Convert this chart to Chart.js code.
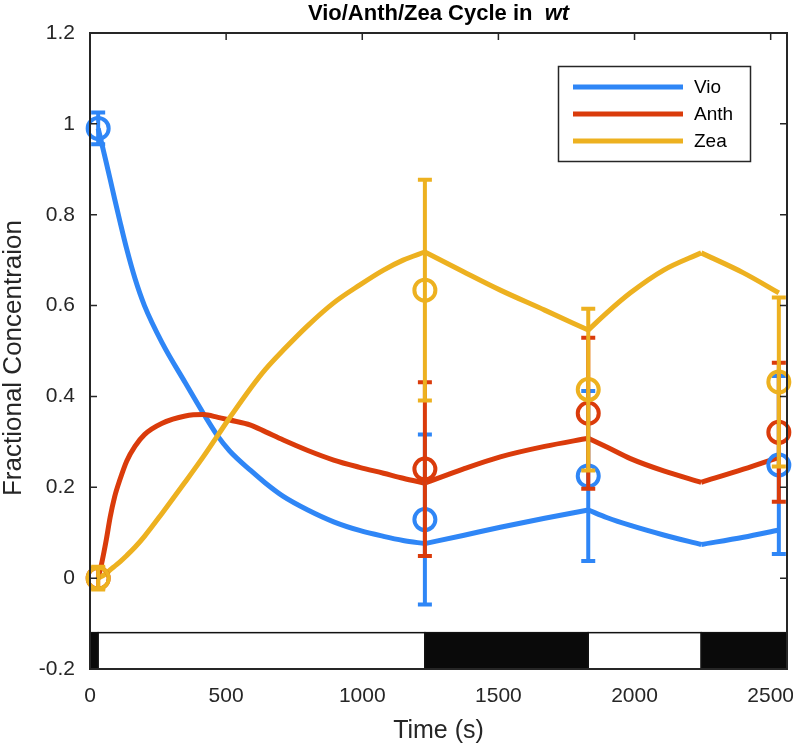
<!DOCTYPE html>
<html><head><meta charset="utf-8">
<script src="https://cdn.jsdelivr.net/npm/chart.js@4.4.1/dist/chart.umd.min.js"></script>
<style>html,body{margin:0;padding:0;background:#fff;}</style>
</head><body>
<canvas id="c" width="793" height="744"></canvas>
<script>
// ---------- data ----------
const seriesNames = ['Vio', 'Anth', 'Zea'];
const modelTime = [30, 43, 60, 74, 90, 110, 135, 165, 200, 265, 350, 417, 470, 513, 590, 645, 710, 800, 895, 990, 1078, 1150, 1230, 1370, 1507, 1670, 1830, 1900, 1985, 2107, 2245, 2400, 2530];
const vioModel  = [0.99, 0.957, 0.914, 0.878, 0.836, 0.785, 0.724, 0.66, 0.6, 0.518, 0.43, 0.362, 0.312, 0.28, 0.237, 0.209, 0.18, 0.15, 0.124, 0.105, 0.092, 0.083, 0.076, 0.094, 0.112, 0.132, 0.15, 0.133, 0.116, 0.095, 0.074, 0.09, 0.106];
const anthModel = [0.0, 0.033, 0.085, 0.134, 0.178, 0.217, 0.258, 0.29, 0.316, 0.341, 0.357, 0.36, 0.354, 0.348, 0.337, 0.322, 0.304, 0.281, 0.26, 0.244, 0.231, 0.22, 0.209, 0.24, 0.267, 0.29, 0.308, 0.288, 0.263, 0.236, 0.211, 0.24, 0.266];
const zeaModel  = [0.0, 0.004, 0.01, 0.018, 0.026, 0.036, 0.05, 0.068, 0.092, 0.143, 0.212, 0.268, 0.315, 0.353, 0.418, 0.46, 0.502, 0.556, 0.606, 0.645, 0.678, 0.7, 0.718, 0.675, 0.634, 0.59, 0.546, 0.585, 0.628, 0.678, 0.716, 0.672, 0.628];
// times where the light switches and the model curves have corners
const switchTimes = [1230, 1830, 2245];

const sampleTime = [30, 1230, 1830, 2530];
const vioMean  = [0.99, 0.129, 0.225, 0.249];
const vioErr   = [0.035, 0.187, 0.187, 0.196];
const anthMean = [0.0, 0.240, 0.363, 0.321];
const anthErr  = [0.022, 0.191, 0.166, 0.153];
const zeaMean  = [0.0, 0.634, 0.415, 0.432];
const zeaErr   = [0.025, 0.243, 0.178, 0.186];

const xTickValues = [0, 500, 1000, 1500, 2000, 2500];
const xTickLabels = ['0', '500', '1000', '1500', '2000', '2500'];
const yTickValues = [-0.2, 0, 0.2, 0.4, 0.6, 0.8, 1.0, 1.2];
const yTickLabels = ['-0.2', '0', '0.2', '0.4', '0.6', '0.8', '1', '1.2'];

// light / dark periods (s)
const periodStart = [0, 30, 1230, 1830, 2245];
const periodEnd   = [30, 1230, 1830, 2245, 2560];
const periodDark  = [true, false, true, false, true];

// ---------- styles ----------
const FONT = "'Liberation Sans', Arial, Helvetica, sans-serif";
const colors = ['#2f86f6', '#da3b0b', '#edb120'];
const AXC = '#262626';

const toPts = (xs, ys) => xs.map((t, i) => ({x: t, y: ys[i]}));

function segments(arr) {
  const pts = toPts(modelTime, arr);
  const bounds = [modelTime[0], ...switchTimes, modelTime[modelTime.length - 1]];
  const out = [];
  for (let i = 0; i < bounds.length - 1; i++) {
    out.push(pts.filter(p => p.x >= bounds[i] && p.x <= bounds[i + 1]));
  }
  return out;
}

const modelSets = [];
[vioModel, anthModel, zeaModel].forEach((arr, k) => {
  segments(arr).forEach(seg => modelSets.push({
    label: seriesNames[k],
    data: seg,
    showLine: true,
    borderColor: colors[k],
    borderWidth: 5,
    pointRadius: 0,
    fill: false,
    cubicInterpolationMode: 'monotone',
    order: 12 - k
  }));
});
const means = [vioMean, anthMean, zeaMean];
const errs = [vioErr, anthErr, zeaErr];
const pointSets = means.map((arr, k) => ({
  label: seriesNames[k] + ' data',
  data: toPts(sampleTime, arr),
  errors: errs[k],
  showLine: false,
  pointStyle: 'circle',
  pointRadius: 10.5,
  pointBorderWidth: 4,
  borderColor: colors[k],
  pointBorderColor: colors[k],
  pointBackgroundColor: 'rgba(0,0,0,0)',
  backgroundColor: 'rgba(0,0,0,0)',
  clip: false,
  order: 3 - k
}));

const errorBarPlugin = {
  id: 'errbars',
  beforeDatasetDraw(chart, args) {
    const ds = chart.data.datasets[args.index];
    if (!ds.errors) return;
    const {ctx, scales: {x, y}} = chart;
    ctx.save();
    ctx.strokeStyle = ds.borderColor;
    ctx.lineWidth = 4;
    ds.data.forEach((p, i) => {
      const px = x.getPixelForValue(p.x);
      const yt = y.getPixelForValue(p.y + ds.errors[i]);
      const yb = y.getPixelForValue(p.y - ds.errors[i]);
      ctx.beginPath();
      ctx.moveTo(px, yt); ctx.lineTo(px, yb);
      ctx.moveTo(px - 7, yt); ctx.lineTo(px + 7, yt);
      ctx.moveTo(px - 7, yb); ctx.lineTo(px + 7, yb);
      ctx.stroke();
    });
    ctx.restore();
  }
};

const decorPlugin = {
  id: 'decor',
  beforeDatasetsDraw(chart) {
    const {ctx, scales: {x, y}} = chart;
    const yTop = y.getPixelForValue(-0.12), yBot = y.getPixelForValue(-0.2);
    ctx.save();
    periodStart.forEach((s, i) => {
      const x0 = x.getPixelForValue(s), x1 = x.getPixelForValue(periodEnd[i]);
      ctx.fillStyle = periodDark[i] ? '#0a0a0a' : '#ffffff';
      ctx.fillRect(x0, yTop, x1 - x0, yBot - yTop);
      ctx.strokeStyle = '#111';
      ctx.lineWidth = 1.5;
      ctx.strokeRect(x0, yTop, x1 - x0, yBot - yTop);
    });
    ctx.restore();
  },
  afterDraw(chart) {
    const {ctx, chartArea: a, scales: {x, y}} = chart;
    ctx.save();
    ctx.strokeStyle = AXC;
    ctx.lineWidth = 2;
    ctx.strokeRect(a.left, a.top, a.right - a.left, a.bottom - a.top);
    ctx.lineWidth = 1.5;
    ctx.beginPath();
    xTickValues.forEach(v => {
      const px = x.getPixelForValue(v);
      if (px <= a.left + 1) return;
      ctx.moveTo(px, a.top); ctx.lineTo(px, a.top + 7);
    });
    yTickValues.forEach(v => {
      const py = y.getPixelForValue(v);
      if (py <= a.top + 1 || py >= a.bottom - 1) return;
      ctx.moveTo(a.left, py); ctx.lineTo(a.left + 7, py);
      ctx.moveTo(a.right, py); ctx.lineTo(a.right - 7, py);
    });
    ctx.stroke();

    // title
    const cx = (a.left + a.right) / 2;
    const p1 = 'Vio/Anth/Zea Cycle in  ', p2 = 'wt';
    ctx.fillStyle = '#000';
    ctx.textBaseline = 'alphabetic';
    ctx.font = 'bold 22px ' + FONT;
    const w1 = ctx.measureText(p1).width;
    ctx.font = 'italic bold 22px ' + FONT;
    const w2 = ctx.measureText(p2).width;
    const sx = cx - (w1 + w2) / 2;
    ctx.textAlign = 'left';
    ctx.font = 'bold 22px ' + FONT;
    ctx.fillText(p1, sx, 20);
    ctx.font = 'italic bold 22px ' + FONT;
    ctx.fillText(p2, sx + w1, 20);

    // axis titles
    ctx.fillStyle = AXC;
    ctx.font = '25px ' + FONT;
    ctx.textAlign = 'center';
    ctx.fillText('Time (s)', cx, 738);
    ctx.save();
    ctx.translate(20.5, 358);
    ctx.rotate(-Math.PI / 2);
    ctx.font = '26px ' + FONT;
    ctx.fillText('Fractional Concentraion', 0, 0);
    ctx.restore();

    // legend
    const lx = 558.5, ly = 66.5, lw = 192, lh = 95;
    ctx.fillStyle = '#fff';
    ctx.fillRect(lx, ly, lw, lh);
    ctx.strokeStyle = AXC;
    ctx.lineWidth = 1.5;
    ctx.strokeRect(lx, ly, lw, lh);
    const rows = [87, 114, 141];
    ctx.font = '19px ' + FONT;
    ctx.textAlign = 'left';
    ctx.textBaseline = 'middle';
    seriesNames.forEach((n, k) => {
      ctx.strokeStyle = colors[k];
      ctx.lineWidth = 5;
      ctx.beginPath();
      ctx.moveTo(573, rows[k]); ctx.lineTo(683, rows[k]);
      ctx.stroke();
      ctx.fillStyle = '#000';
      ctx.fillText(n, 694, rows[k] + 1);
    });
    ctx.restore();
  }
};

new Chart(document.getElementById('c'), {
  type: 'scatter',
  data: {datasets: [...modelSets, ...pointSets]},
  options: {
    responsive: false,
    animation: false,
    layout: {autoPadding: false, padding: {top: 33, right: 6, left: 0, bottom: 0}},
    plugins: {legend: {display: false}, tooltip: {enabled: false}, title: {display: false}},
    scales: {
      x: {
        type: 'linear', min: 0, max: 2560,
        grid: {display: false, drawTicks: false},
        border: {display: false},
        afterBuildTicks: s => { s.ticks = xTickValues.map(v => ({value: v})); },
        ticks: {padding: 15, color: AXC, font: {family: FONT, size: 21},
                callback: (v, i) => xTickLabels[i]},
        afterFit: s => { s.height = 75; s.paddingLeft = 0; s.paddingRight = 0; }
      },
      y: {
        type: 'linear', min: -0.2, max: 1.2,
        grid: {display: false, drawTicks: false},
        border: {display: false},
        afterBuildTicks: s => { s.ticks = yTickValues.map(v => ({value: v})); },
        ticks: {padding: 15, color: AXC, font: {family: FONT, size: 21},
                callback: (v, i) => yTickLabels[i]},
        afterFit: s => { s.width = 90; s.paddingTop = 0; s.paddingBottom = 0; }
      }
    }
  },
  plugins: [errorBarPlugin, decorPlugin]
});
</script>
</body></html>
